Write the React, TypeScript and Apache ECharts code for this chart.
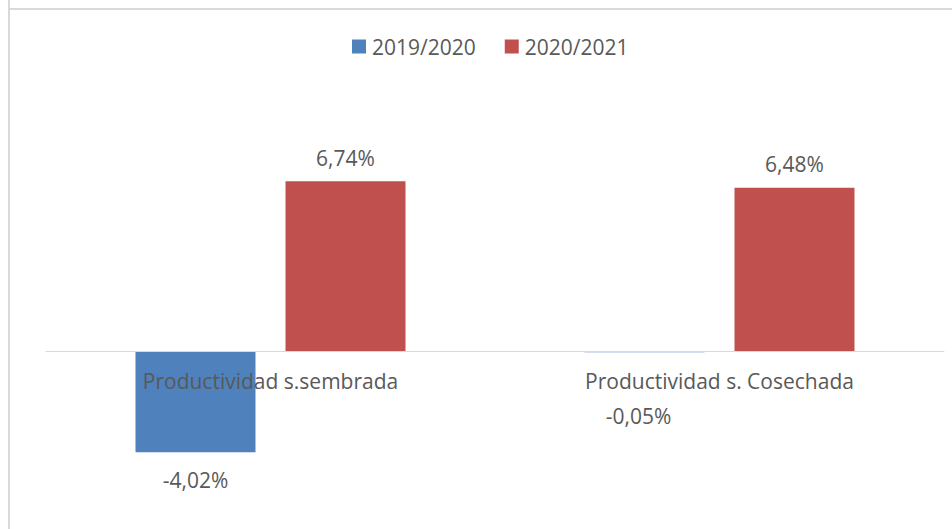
import React, { useEffect, useRef } from "react";
import * as echarts from "echarts";

const categories = ["Productividad s.sembrada", "Productividad s. Cosechada"];
const seriesNames = ["2019/2020", "2020/2021"];
const values2019 = [-4.02, -0.05];
const values2020 = [6.74, 6.48];
const categoryBaseline = [0, 0];

const FONT = "Open Sans";
const TEXT = "#595959";
const FS = 21;

const fmt = (v: number) => v.toFixed(2).replace(".", ",") + "%";

export default function App() {
  const ref = useRef<HTMLDivElement>(null);
  useEffect(() => {
    if (!ref.current) return;
    const chart = echarts.init(ref.current, undefined, { renderer: "svg" });
    const labelBase = {
      show: true,
      color: TEXT,
      fontFamily: FONT,
      fontSize: FS,
      formatter: (p: any) => fmt(p.value),
    };
    chart.setOption({
      animation: false,
      backgroundColor: "#ffffff",
      textStyle: { fontFamily: FONT },
      graphic: [
        { type: "line", shape: { x1: 9, y1: 0, x2: 9, y2: 529 }, style: { stroke: "#d9d9d9", lineWidth: 2 } },
        { type: "line", shape: { x1: 8, y1: 9, x2: 952, y2: 9 }, style: { stroke: "#d9d9d9", lineWidth: 2 } },
      ],
      legend: {
        left: 347,
        top: 31,
        itemWidth: 14,
        itemHeight: 14,
        itemGap: 29,
        icon: "rect",
        textStyle: { color: TEXT, fontFamily: FONT, fontSize: FS, padding: [0, 0, 0, 1] },
        data: seriesNames,
      },
      grid: {
        left: 46,
        right: 8,
        top: 149.4,
        height: 352.8,
        containLabel: false,
        outerBoundsMode: "none",
      },
      xAxis: {
        type: "category",
        data: categories,
        z: 10,
        axisLine: { onZero: true, lineStyle: { color: "#d9d9d9", width: 1 } },
        axisTick: { show: false },
        axisLabel: { show: false },
      },
      yAxis: {
        type: "value",
        min: -6,
        max: 8,
        axisLine: { show: false },
        axisTick: { show: false },
        axisLabel: { show: false },
        splitLine: { show: false },
      },
      series: [
        {
          name: seriesNames[0],
          type: "bar",
          barWidth: 120,
          barGap: "25%",
          itemStyle: { color: "#4f81bd" },
          data: [
            { value: values2019[0], label: { ...labelBase, position: "bottom", distance: 17 } },
            { value: values2019[1], label: { ...labelBase, position: "bottom", distance: 53, offset: [-6, 0] } },
          ],
        },
        {
          name: seriesNames[1],
          type: "bar",
          barWidth: 120,
          barGap: "25%",
          itemStyle: { color: "#c0504d" },
          label: { ...labelBase, position: "top", distance: 13 },
          data: values2020,
        },
        {
          name: "categoryLabels",
          type: "scatter",
          z: 10,
          symbolSize: 1,
          itemStyle: { color: "transparent", opacity: 1 },
          silent: true,
          label: {
            show: true,
            position: "bottom",
            distance: 19,
            opacity: 1,
            color: TEXT,
            fontFamily: FONT,
            fontSize: FS,
            formatter: (p: any) => categories[p.dataIndex],
          },
          data: categoryBaseline,
        },
      ],
    });
    return () => chart.dispose();
  }, []);
  return (
    <div
      ref={ref}
      style={{ position: "absolute", left: 0, top: 0, width: 952, height: 529 }}
    />
  );
}
